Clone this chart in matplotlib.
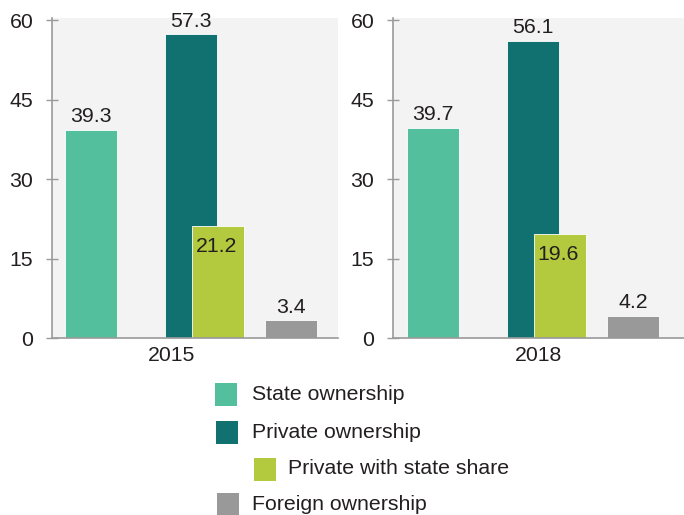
import matplotlib
matplotlib.use("Agg")
import matplotlib.pyplot as plt
from matplotlib.patches import Rectangle

plt.rcParams['font.family'] = ['Liberation Sans', 'DejaVu Sans']

years = ["2015", "2018"]
categories = ["State ownership", "Private ownership", "Private with state share", "Foreign ownership"]
state = [39.3, 39.7]
private = [57.3, 56.1]
private_state_share = [21.2, 19.6]
foreign = [3.4, 4.2]
yticks = [0, 15, 30, 45, 60]

colors = ["#53bf9d", "#117170", "#b3c93e", "#999999"]
bg = "#f2f3f2"
spine_c = "#9a9a9a"
txt_c = "#231f20"
fs = 15.3

W, H = 684, 515
fig = plt.figure(figsize=(W / 100, H / 100), dpi=100)

def ax_rect(x0, x1, y_top, y_bot):
    return [x0 / W, 1 - y_bot / H, (x1 - x0) / W, (y_bot - y_top) / H]

panels = [
    dict(rect=ax_rect(52, 338, 18, 338), xlim=(-0.39, 2.47), tickx=0.81),
    dict(rect=ax_rect(393, 684, 18, 338), xlim=(-0.40, 2.51), tickx=1.05),
]

bw = 0.52
for i, p in enumerate(panels):
    ax = fig.add_axes(p["rect"])
    ax.set_facecolor(bg)
    ax.set_xlim(*p["xlim"])
    ax.set_ylim(0, 60.4)
    vals = [state[i], private[i], private_state_share[i], foreign[i]]
    xs = [0, 1, 1 + bw / 2 + 0.005, 2]
    for k, (x, v) in enumerate(zip(xs, vals)):
        ax.bar(x, v, width=bw, color=colors[k], edgecolor="#ffffff", linewidth=0.6, zorder=2)
        if k == 2:
            ax.annotate(f"{v}", (x, v), xytext=(-1, -8), textcoords="offset points",
                        ha="center", va="top", fontsize=fs, color=txt_c, zorder=3)
        else:
            ax.annotate(f"{v}", (x, v), xytext=(0, 2.5), textcoords="offset points",
                        ha="center", va="bottom", fontsize=fs, color=txt_c, zorder=3)
    for s in ["top", "right"]:
        ax.spines[s].set_visible(False)
    for s in ["left", "bottom"]:
        ax.spines[s].set_color(spine_c)
        ax.spines[s].set_linewidth(1.2)
    ax.set_yticks(yticks)
    ax.set_yticklabels([str(t) for t in yticks])
    ax.tick_params(axis="y", direction="inout", length=9, width=1.0, color=spine_c,
                   labelsize=fs, labelcolor=txt_c, pad=9)
    ax.set_xticks([p["tickx"]])
    ax.set_xticklabels([years[i]])
    ax.tick_params(axis="x", length=0, labelsize=fs, labelcolor=txt_c, pad=6)

# legend (custom layout with indented item)
leg = [
    (215, 383, 252, 395),
    (216, 421, 252, 433),
    (254, 458, 288, 469),
    (217, 493, 252, 505),
]
for k, (sx, sy, tx, ty) in enumerate(leg):
    fig.patches.append(Rectangle((sx / W, 1 - (sy + 23) / H), 22 / W, 23 / H,
                                 transform=fig.transFigure, facecolor=colors[k],
                                 edgecolor="none"))
    fig.text(tx / W, 1 - ty / H, categories[k], ha="left", va="center",
             fontsize=fs, color=txt_c)

fig.savefig("out.png", dpi=100)
